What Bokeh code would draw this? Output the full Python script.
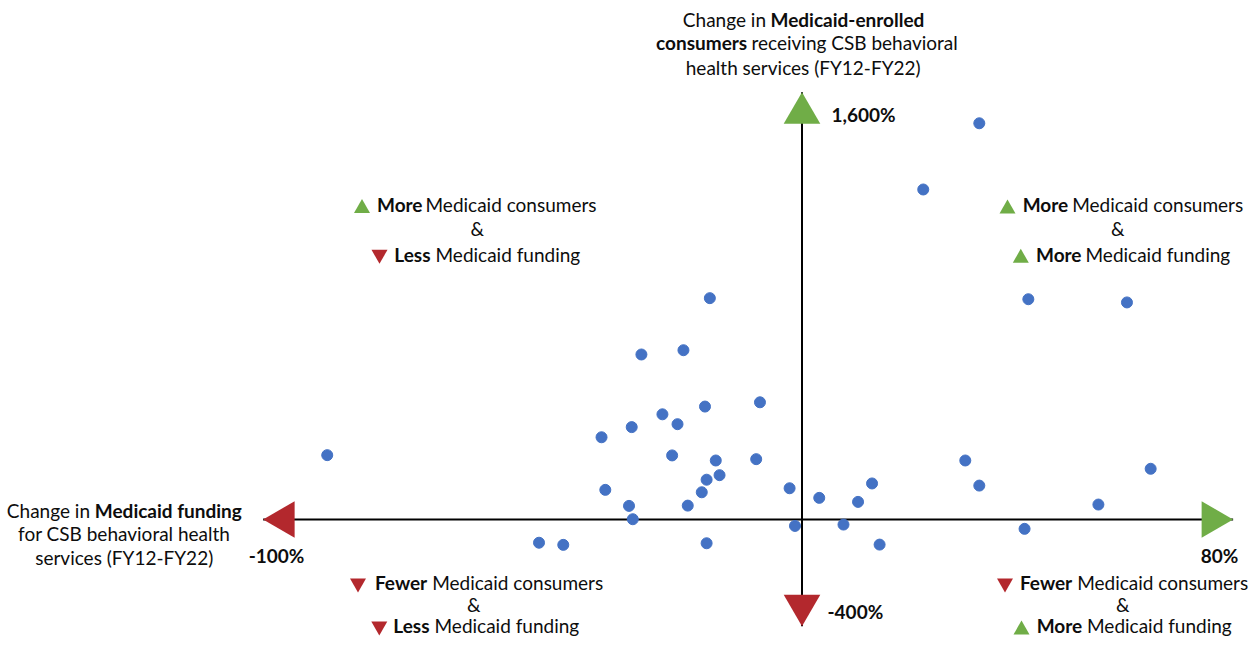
import math
from bokeh.plotting import figure
from bokeh.models import Range1d, ColumnDataSource
from bokeh.core.properties import value
from bokeh.embed import file_html
from bokeh.resources import INLINE

# ---------------- data (percent change FY12-FY22, one point per CSB) ----------------
funding_change = [32.9, 22.5, 42.0, 60.3, 30.3, 64.7, -2.3, 13.0, 32.9, 3.2, 10.4, 55.0,
                  -1.3, 7.7, 41.3, 14.4, -17.1, -29.8, -22.0, -7.8, -18.0, -25.9, -23.1,
                  -31.6, -37.2, -24.1, -16.0, -8.5, -15.3, -17.7, -18.6, -36.5, -32.1,
                  -21.2, -31.4, -48.8, -44.3, -17.7, -88.1]
consumer_change = [1484, 1236, 825, 813, 221, 190, 117, 135, 127, 81, 66, 56,
                   -24, -19, -35, -94, 829, 618, 634, 439, 423, 394, 357,
                   346, 308, 240, 221, 226, 166, 149, 102, 111, 51,
                   52, 1, -87, -95, -89, 241]

x_axis_limits = [-100, 80]
y_axis_limits = [-400, 1600]
x_limit_labels = ["-100%", "80%"]
y_limit_labels = ["-400%", "1,600%"]

y_title_bold = ["Medicaid-enrolled", "consumers"]
y_title_normal = ["Change in", "receiving CSB behavioral", "health services (FY12-FY22)"]
x_title_bold = ["Medicaid funding"]
x_title_normal = ["Change in", "for CSB behavioral health", "services (FY12-FY22)"]

# ---------------- figure ----------------
W, H = 1250, 637
GREEN = "#70AD47"
RED = "#B3282D"
BLUE = "#4472C4"
FONT = value("Lato")
FS = "19px"

PPX = 5.389   # pixels per 1 % of funding change
PPY = 0.267   # pixels per 1 % of consumer change
X_ZERO_PX, Y_ZERO_PX = 801.5, 519.0
xr = Range1d(-X_ZERO_PX / PPX, (W - X_ZERO_PX) / PPX)
yr = Range1d(-(H - Y_ZERO_PX) / PPY, Y_ZERO_PX / PPY)
p = figure(width=W, height=H, x_range=xr, y_range=yr, output_backend="svg",
           toolbar_location=None, x_axis_location=None, y_axis_location=None,
           min_border=0, outline_line_color=None, background_fill_color="white",
           border_fill_color="white")
p.grid.visible = False

ppx = W / (xr.end - xr.start)
ppy = H / (yr.end - yr.start)


def px2x(px):
    return xr.start + px / ppx


def py2y(py):
    return yr.end - py / ppy


# axis lines
p.segment(x0=[x_axis_limits[0], 0], y0=[0, y_axis_limits[0]],
          x1=[x_axis_limits[1], 0], y1=[0, y_axis_limits[1]],
          line_color="black", line_width=2)

# arrow heads (tip at axis limit)
L, HW = 31.5, 18.3
xmin, xmax = x_axis_limits
ymin, ymax = y_axis_limits
arrows_xs = [
    [xmin, xmin + L / ppx, xmin + L / ppx],
    [xmax, xmax - L / ppx, xmax - L / ppx],
    [-HW / ppx, HW / ppx, 0],
    [-HW / ppx, HW / ppx, 0],
]
arrows_ys = [
    [0, HW / ppy, -HW / ppy],
    [0, HW / ppy, -HW / ppy],
    [ymax - L / ppy, ymax - L / ppy, ymax],
    [ymin + L / ppy, ymin + L / ppy, ymin],
]
p.patches(xs=arrows_xs, ys=arrows_ys, fill_color=[RED, GREEN, GREEN, RED],
          line_color=None)

# data points
src = ColumnDataSource(dict(x=funding_change, y=consumer_change))
p.scatter("x", "y", source=src, size=11, fill_color=BLUE, line_color=BLUE)

DY = -1.6  # middle-baseline correction


def txt(s, px, py, align="left", bold=False, size=FS):
    p.text(x=[px2x(px)], y=[py2y(py + DY)], text=[s], text_font=FONT, text_font_size=size,
           text_align=align, text_baseline="middle", text_color="#0d0d0d",
           text_font_style="bold" if bold else "normal")


# y-axis title (top)
txt(y_title_normal[0], 765.5, 20.7, "right")
txt(y_title_bold[0], 770, 20.7, "left", True)
txt(y_title_bold[1], 746.7, 44, "right", True)
txt(y_title_normal[1], 751, 44, "left")
txt(y_title_normal[2], 802.7, 68.3, "center")

# x-axis title (left)
txt(x_title_normal[0], 89.5, 511.7, "right")
txt(x_title_bold[0], 94.3, 511.7, "left", True)
txt(x_title_normal[1], 123.7, 535, "center")
txt(x_title_normal[2], 123.7, 558.3, "center")

# axis limit labels
txt(x_limit_labels[0], 276, 556.7, "center", True)
txt(x_limit_labels[1], 1219, 556.7, "center", True)
txt(y_limit_labels[0], 827, 612.7, "left", True)
txt(y_limit_labels[1], 831, 116, "left", True)

# quadrant labels: (bold word, bold right edge, rest, rest left edge, y, marker kind, marker x)
quad_lines = [
    ("More", 422, "Medicaid consumers", 425, 205.5, "up", 361.5),
    ("Less", 430, "Medicaid funding", 435, 255.3, "down", 379),
    ("More", 1067.7, "Medicaid consumers", 1071.7, 206, "up", 1007),
    ("More", 1081, "Medicaid funding", 1085, 255.3, "up", 1020.3),
    ("Fewer", 426.7, "Medicaid consumers", 431.7, 584, "down", 357.5),
    ("Less", 429, "Medicaid funding", 434, 627, "down", 378.8),
    ("Fewer", 1071.7, "Medicaid consumers", 1076.7, 584, "down", 1004.5),
    ("More", 1081.7, "Medicaid funding", 1086.5, 627, "up", 1021),
]
TS = 16
th = TS * math.sqrt(3) / 2
for bw, bx, rest, rx, y, kind, mx in quad_lines:
    txt(bw, bx, y, "right", True)
    txt(rest, rx, y, "left")
    if kind == "up":
        p.scatter(x=[px2x(mx)], y=[py2y(y + th / 6)], marker="triangle", size=TS,
                  fill_color=GREEN, line_color=None)
    else:
        p.scatter(x=[px2x(mx)], y=[py2y(y - th / 6 + 1)], marker="inverted_triangle",
                  size=TS, fill_color=RED, line_color=None)

for ax, ay in [(476.7, 230), (1117.3, 230), (473.3, 605.5), (1122.3, 605.5)]:
    txt("&", ax, ay, "center")

open("out.html", "w").write(file_html(p, INLINE))
